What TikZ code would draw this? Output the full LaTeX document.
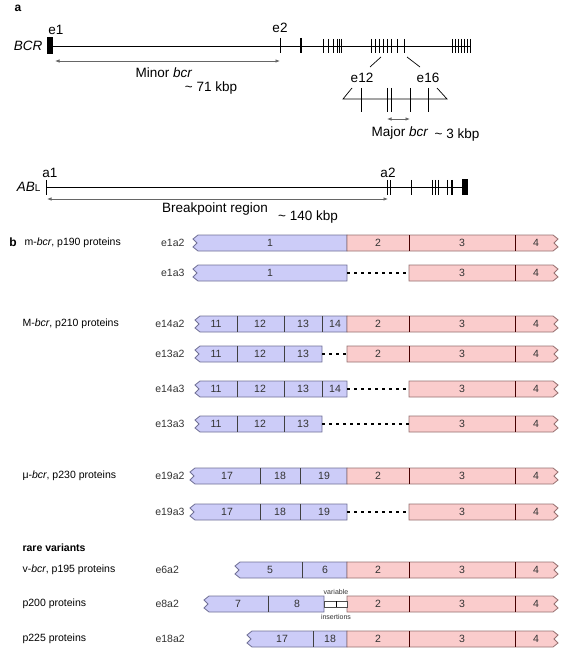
\documentclass[tikz,border=0pt]{standalone}
\usepackage{fontspec}
\setmainfont{Liberation Sans}
\usetikzlibrary{arrows.meta}

\definecolor{exonBlue}{RGB}{204,204,248}
\definecolor{exonRed}{RGB}{250,204,204}
\definecolor{edgeBlue}{RGB}{112,112,150}
\definecolor{edgeRed}{RGB}{150,112,112}

%% bcr part of a fusion bar: zigzag left end (#1 left, #2 right, #3 middle)
\newcommand{\bcrBar}[3]{%
  \filldraw[bcrDecorate] (#1+5,#3-8) -- (#2,#3-8) -- (#2,#3+8) -- (#1+5,#3+8)
    -- (#1,#3+4) -- (#1+4,#3) -- (#1,#3-4) -- cycle;}
%% abl part of a fusion bar: zigzag right end (#1 left, #2 middle)
\newcommand{\ablBar}[2]{%
  \filldraw[ablDecorate] (#1,#2-8) -- (553,#2-8) -- (558,#2-4) -- (554,#2)
    -- (558,#2+4) -- (553,#2+8) -- (#1,#2+8) -- cycle;}

\begin{document}
\begin{tikzpicture}
[x=1pt,y=-1pt,
  bcrDecorate/.style={fill=exonBlue,draw=edgeBlue,line width=0.8pt},%
  ablDecorate/.style={fill=exonRed,draw=edgeRed,line width=0.8pt},%
  divBlue/.style={draw=black!75,line width=0.9pt},%
  divRed/.style={draw=black!60!red!70!black,line width=0.9pt},%
  gapLine/.style={draw=black,line width=1.5pt,dash pattern=on 3pt off 4pt},%
  exonText/.style={font=\fontsize{10.5}{12}\selectfont,text=black!80},%
  rowText/.style={font=\fontsize{10.5}{12}\selectfont,anchor=west},%
  geneText/.style={font=\fontsize{13.5}{15}\selectfont},%
  tickDecorate/.style={draw=black,line width=0.7pt},%
  spanArrow/.style={draw=black!60,line width=0.7pt,{Latex[length=4.5pt,width=3.5pt]}-{Latex[length=4.5pt,width=3.5pt]}}]
\useasboundingbox (0,0) rectangle (564,652);

%% ---------------- part a ----------------
\node (partA) [font=\bfseries\fontsize{12}{14}\selectfont] at (18,8) {a};

%% BCR gene
\node (bcrName) [geneText,anchor=east] at (46,46) {\textit{BCR}};
\coordinate (bcrL) at (53,46);
\coordinate (bcrR) at (470,46);
\draw[tickDecorate] (bcrL) -- (bcrR);
\fill (47,37) rectangle (53,54);
\draw[tickDecorate] (280,38) -- (280,53);
\draw[line width=2pt] (301,38) -- (301,53);
\foreach \x in {323,328,333,337,339,341,371,375,379,383,387,391,397,404,452,455,458,461,464,467,470}
  \draw[tickDecorate] (\x,39) -- (\x,53);
\node (bcrE1) [geneText] at (56,30) {e1};
\node (bcrE2) [geneText] at (280,28) {e2};

%% minor breakpoint region
\coordinate (minorL) at (55,61);
\coordinate (minorR) at (280,61);
\draw[spanArrow] (minorL) -- (minorR);
\node (minorName) [geneText] at (164,73) {Minor \textit{bcr}};
\node (minorSize) [geneText] at (211,88) {\textasciitilde\ 71 kbp};

%% zoom on e12--e16
\node (zoomE12) [geneText] at (362,78) {e12};
\node (zoomE16) [geneText] at (428,78) {e16};
\draw[tickDecorate] (381,57) -- (370,67);
\draw[tickDecorate] (407,57) -- (420,67);
\coordinate (zoomL) at (343,99);
\coordinate (zoomR) at (447,99);
\draw[tickDecorate] (352,88) -- (zoomL) -- (zoomR) -- (437,88);
\foreach \x in {361,387,391,410,428}
  \draw[tickDecorate] (\x,88) -- (\x,112);
\coordinate (majorL) at (387,119);
\coordinate (majorR) at (410,119);
\draw[spanArrow] (majorL) -- (majorR);
\node (majorName) [geneText] at (400,133) {Major \textit{bcr}};
\node (majorSize) [geneText] at (457,135) {\textasciitilde\ 3 kbp};

%% ABL gene
\node (ablName) [geneText,anchor=east] at (44,187) {\textit{AB}{\fontsize{10}{11}\selectfont L}};
\coordinate (ablL) at (46,187);
\coordinate (ablR) at (466,187);
\draw[tickDecorate] (ablL) -- (ablR);
\draw[tickDecorate] (46,180) -- (46,195);
\foreach \x in {387,390,411,432,435,438,447}
  \draw[tickDecorate] (\x,180) -- (\x,195);
\draw[line width=2pt] (452,180) -- (452,195);
\fill (462,179) rectangle (468,195);
\node (ablA1) [geneText] at (50,173) {a1};
\node (ablA2) [geneText] at (388,173) {a2};
\coordinate (breakL) at (47,199);
\coordinate (breakR) at (388,199);
\draw[spanArrow] (breakL) -- (breakR);
\node (breakName) [geneText] at (215,209) {Breakpoint region};
\node (breakSize) [geneText] at (308,217) {\textasciitilde\ 140 kbp};

%% ---------------- part b ----------------
\node (partB) [font=\bfseries\fontsize{12}{14}\selectfont] at (13,242) {b};
\node (grpMinor) [rowText] at (21,243) {m-\textit{bcr}, p190 proteins};
\node (grpMajor) [rowText] at (19,324) {M-\textit{bcr}, p210 proteins};
\node (grpMicro) [rowText] at (19,476) {μ-\textit{bcr}, p230 proteins};
\node (grpRare) [rowText,font=\bfseries\fontsize{10.5}{12}\selectfont] at (19,548) {rare variants};
\node (grpV) [rowText] at (19,570) {v-\textit{bcr}, p195 proteins};
\node (grpP200) [rowText] at (19,604) {p200 proteins};
\node (grpP225) [rowText] at (19,639) {p225 proteins};

%% transcript names
\foreach \name/\y in {e1a2/243, e1a3/273, e14a2/324, e13a2/354, e14a3/389, e13a3/424, e19a2/476, e19a3/512}
  \node (\name) [exonText,anchor=east] at (188,\y) {\name};
\foreach \name/\y in {e6a2/570, e8a2/604, e18a2/639}
  \node (\name) [exonText,anchor=west] at (152,\y) {\name};

%% bars: middle / bcr left / bcr right / abl left
\foreach \y/\xl/\xr/\xa in {243/193/347/347, 273/193/347/409, 324/195/347/347,
  354/195/322/347, 389/195/347/409, 424/195/322/409, 476/190/347/347,
  512/190/347/409, 570/235/347/347, 604/204/324/347, 639/247/347/347}
{
  \bcrBar{\xl}{\xr}{\y}
  \ablBar{\xa}{\y}
  \draw[divRed] (515,\y-8) -- (515,\y+8);
  \node (a3-\y) [exonText] at (462,\y) {3};
  \node (a4-\y) [exonText] at (536,\y) {4};
  \coordinate (gapL-\y) at (\xr,\y);
  \coordinate (gapR-\y) at (\xa,\y);
}
%% rows that keep abl exon a2
\foreach \y in {243,324,354,476,570,604,639}
{
  \draw[divRed] (409,\y-8) -- (409,\y+8);
  \node (a2-\y) [exonText] at (378,\y) {2};
}
%% missing exons
\foreach \y in {273,354,389,424,512}
  \draw[gapLine] (gapL-\y) -- (gapR-\y);

%% bcr exon borders
\foreach \y/\x in {324/237, 324/284, 324/322, 354/237, 354/284, 389/237, 389/284,
  389/322, 424/237, 424/284, 476/260, 476/300, 512/260, 512/300, 570/302,
  604/268, 639/313}
  \draw[divBlue] (\x,\y-8) -- (\x,\y+8);

%% bcr exon numbers
\foreach \y/\x/\t in {243/270/1, 273/270/1,
  324/216/11, 324/260/12, 324/303/13, 324/335/14,
  354/216/11, 354/260/12, 354/303/13,
  389/216/11, 389/260/12, 389/303/13, 389/335/14,
  424/216/11, 424/260/12, 424/303/13,
  476/227/17, 476/280/18, 476/324/19,
  512/227/17, 512/280/18, 512/324/19,
  570/270/5, 570/325/6, 604/238/7, 604/297/8, 639/282/17, 639/330/18}
  \node (b\t-\y) [exonText] at (\x,\y) {\t};

%% variable insertions
\filldraw[fill=white,draw=black!70,line width=0.6pt] (324,601) rectangle (347,607);
\draw[line width=1pt] (336,601) -- (336,607);
\node (insTop) [font=\fontsize{7}{8}\selectfont,text=black!80] at (336,592) {variable};
\node (insBot) [font=\fontsize{7}{8}\selectfont,text=black!80] at (336,617) {insertions};
\end{tikzpicture}
\end{document}
